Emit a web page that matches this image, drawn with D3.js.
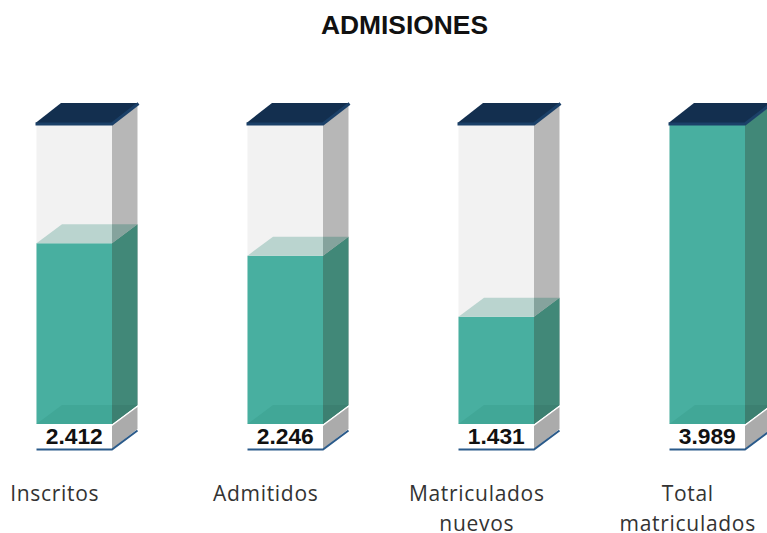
<!DOCTYPE html>
<html><head><meta charset="utf-8">
<script src="https://cdn.jsdelivr.net/npm/d3@7"></script>
<style>html,body{margin:0;padding:0;background:#fff;overflow:hidden}svg{display:block}</style>
</head><body><svg id="c" width="767" height="533"></svg>
<script>
const categories = ["Inscritos","Admitidos","Matriculados nuevos","Total matriculados"];
const categoryLines = [["Inscritos"],["Admitidos"],["Matriculados","nuevos"],["Total","matriculados"]];
const values = [2412,2246,1431,3989];
const valueLabels = ["2.412","2.246","1.431","3.989"];
const titleText = "ADMISIONES";
const capacity = 3989;

const svg = d3.select("#c");
const x = d3.scaleBand().domain(categories).range([36.5,745]).paddingInner(135.5/211).paddingOuter(0).align(0);
const y = d3.scaleLinear().domain([0,capacity]).range([424,125]);
const w = x.bandwidth(), dx = 25.5, dy = -19, baseH = 25;
const poly = (g,pts,fill,op=1)=>g.append("polygon").attr("points",pts.map(p=>p.join(",")).join(" ")).attr("fill",fill).attr("fill-opacity",op);

svg.append("text").attr("x",404.5).attr("y",34).attr("text-anchor","middle")
  .attr("font-family","Liberation Sans").attr("font-weight","700").attr("font-size",26.4).attr("fill","#111").text(titleText);

categories.forEach((c,i)=>{
  const g = svg.append("g");
  const L = x(c), R = L+w, B = y(0), T = y(capacity), Y = y(values[i]);
  // glass
  poly(g,[[L,T],[R,T],[R,B],[L,B]],"#F2F2F2");
  poly(g,[[R,T],[R+dx,T+dy],[R+dx,B+dy],[R,B]],"#B7B7B7");
  // liquid
  poly(g,[[L,Y],[R,Y],[R,B],[L,B]],"#48AFA0");
  poly(g,[[R,Y],[R+dx,Y+dy],[R+dx,B+dy],[R,B]],"#418878");
  if (values[i] < capacity) {
    poly(g,[[L,Y],[L+dx,Y+dy],[R,Y+dy],[R,Y]],"#BAD4CF");
    poly(g,[[R,Y],[R,Y+dy],[R+dx,Y+dy]],"#85A39D");
  }
  // inner floor
  poly(g,[[L,B],[L+dx,B+dy],[R,B+dy],[R,B]],"#41A797");
  poly(g,[[R,B],[R,B+dy],[R+dx,B+dy]],"#3C8071");
  // base plinth
  poly(g,[[L,B],[R,B],[R,B+baseH],[L,B+baseH]],"#FFFFFF");
  poly(g,[[R,B+2],[R+dx,B+dy+2],[R+dx,B+dy+baseH-1],[R,B+baseH]],"#ABABAB");
  g.append("path").attr("d",`M${L},${B+baseH+0.5}H${R}L${R+dx},${B+dy+baseH+0.5}`)
    .attr("fill","none").attr("stroke","#2A5A8A").attr("stroke-width",2);
  // lid
  poly(g,[[L-1,T-2],[L+dx-1,T+dy-3],[R+dx+1,T+dy-3],[R+1,T-2]],"#132F4F");
  g.append("path").attr("d",`M${L-1},${T-1}H${R}L${R+dx+1},${T+dy-2.5}`)
    .attr("fill","none").attr("stroke","#1B4068").attr("stroke-width",3);
  // value
  g.append("text").attr("x",L+w/2).attr("y",B+20).attr("text-anchor","middle")
    .attr("font-family","Liberation Sans").attr("font-weight","700").attr("font-size",22.8).attr("fill","#111").text(valueLabels[i]);
  // category
  const t = g.append("text").attr("text-anchor","middle").attr("font-family","Open Sans")
    .attr("font-size",21).attr("fill","#333").style("letter-spacing","0.7px");
  categoryLines[i].forEach((s,j)=>t.append("tspan").attr("x",L+w/2-19.5).attr("y",501+j*30).text(s));
});
</script></body></html>
